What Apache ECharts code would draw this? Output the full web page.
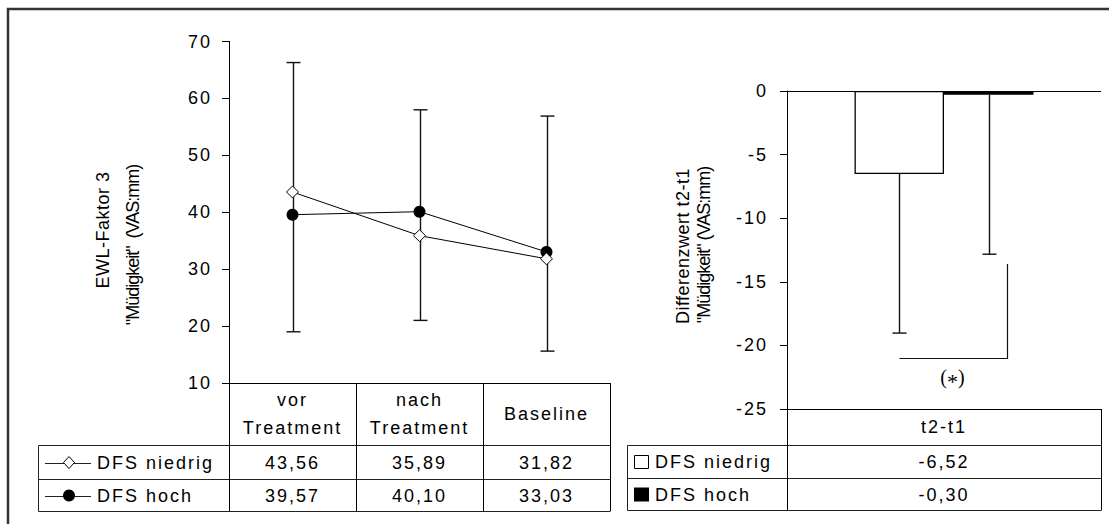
<!DOCTYPE html>
<html><head><meta charset="utf-8">
<script src="https://cdn.jsdelivr.net/npm/echarts@6/dist/echarts.min.js"></script>
<style>
html,body{margin:0;padding:0;background:#fff;}
#c{width:1109px;height:524px;}
#c text{letter-spacing:2px;}
#c text[style*="Arial"],#c text[font-family*="Arial"]{letter-spacing:0.5px;}
#c text[style*="Helvetica"],#c text[font-family*="Helvetica"]{letter-spacing:-1px;}
</style></head><body><div id="c"></div>
<script>
// ---- data ----
const categories = ['vor\nTreatment', 'nach\nTreatment', 'Baseline'];
const seriesNames = ['DFS niedrig', 'DFS hoch'];
const dfsNiedrig = [43.56, 35.89, 31.82];
const dfsHoch = [39.57, 40.10, 33.03];
const errHigh = [66.3, 58.0, 56.9];
const errLow = [19.0, 21.0, 15.6];
const diffCategories = ['t2-t1'];
const diffNiedrig = [-6.52];
const diffHoch = [-0.30];
const diffErrNiedrig = [-19.03];
const diffErrHoch = [-12.83];
const bracketLevel = [-21.0];
const bracketTop = [-13.6];
const sigLabelY = [-22.45];
const yLabelLeft = ['EWL-Faktor 3', '"Müdigkeit"  (VAS:mm)'];
const yLabelRight = ['Differenzwert t2-t1', '"Müdigkeit" (VAS:mm)'];

// ---- layout ----
const FONT = "'Liberation Sans', sans-serif";
const G1 = {left: 229, right: 610, top: 41.5, bottom: 383};
const G2 = {left: 787, right: 1101, top: 91, bottom: 409};
const ROWS1 = [445.5, 479.5, 511.5];
const ROWS2 = [445.5, 478.5, 510.5];
const LEG1 = 38.5, LEG2 = 627.5;
const CAT_GAP = 0.43;
const fmt = v => v.toFixed(2).replace('.', ',');

const chart = echarts.init(document.getElementById('c'), null, {renderer: 'svg', width: 1109, height: 524});
const txt = {color: '#000', fontFamily: FONT, fontSize: 18};
const blk = {color: '#000', width: 1};

function barW(api) { return api.size([1, 0])[0] * (1 - CAT_GAP) / 2; }

const option = {
  animation: false,
  backgroundColor: '#fff',
  textStyle: {fontFamily: FONT},
  grid: [
    {left: G1.left, width: G1.right - G1.left, top: G1.top, height: G1.bottom - G1.top, outerBoundsMode: 'none'},
    {left: G2.left, width: G2.right - G2.left, top: G2.top, height: G2.bottom - G2.top, outerBoundsMode: 'none'}
  ],
  xAxis: [
    {gridIndex: 0, type: 'category', data: categories, boundaryGap: true,
     axisLine: {show: true, lineStyle: blk},
     axisTick: {show: true, alignWithLabel: false, interval: 0, length: 128, lineStyle: blk},
     axisLabel: Object.assign({}, txt, {interval: 0, margin: 31, lineHeight: 28, verticalAlign: 'middle', align: 'center'}),
     splitLine: {show: false}},
    {gridIndex: 1, type: 'category', data: diffCategories, boundaryGap: true,
     axisLine: {show: true, onZero: false, lineStyle: blk},
     axisTick: {show: true, alignWithLabel: false, interval: 0, length: 101, lineStyle: blk},
     axisLabel: Object.assign({}, txt, {interval: 0, margin: 18, verticalAlign: 'middle', align: 'center'}),
     splitLine: {show: false}}
  ],
  yAxis: [
    {gridIndex: 0, type: 'value', min: 10, max: 70, interval: 10,
     axisLine: {show: true, lineStyle: blk}, axisTick: {show: true, length: 7, lineStyle: blk},
     axisLabel: Object.assign({}, txt, {margin: 17}), splitLine: {show: false}},
    {gridIndex: 1, type: 'value', min: -25, max: 0, interval: 5,
     axisLine: {show: true, lineStyle: blk}, axisTick: {show: true, length: 7, lineStyle: blk},
     axisLabel: Object.assign({}, txt, {margin: 19}), splitLine: {show: false}}
  ],
  series: [
    {type: 'custom', name: 'SD', xAxisIndex: 0, yAxisIndex: 0, z: 2,
     data: errLow.map((l, i) => [i, l, errHigh[i]]),
     encode: {x: 0, y: [1, 2]},
     renderItem: function (params, api) {
       const lo = api.coord([api.value(0), api.value(1)]);
       const hi = api.coord([api.value(0), api.value(2)]);
       const x = Math.round(lo[0]) + 0.5, hw = 7;
       const st = {stroke: '#111', lineWidth: 1.4};
       return {type: 'group', children: [
         {type: 'line', shape: {x1: x, y1: lo[1], x2: x, y2: hi[1]}, style: st},
         {type: 'line', shape: {x1: x - hw, y1: lo[1], x2: x + hw, y2: lo[1]}, style: st},
         {type: 'line', shape: {x1: x - hw, y1: hi[1], x2: x + hw, y2: hi[1]}, style: st}
       ]};
     }},
    {type: 'line', name: seriesNames[0], xAxisIndex: 0, yAxisIndex: 0, z: 4, data: dfsNiedrig,
     symbol: 'diamond', symbolSize: 12,
     itemStyle: {color: '#fff', borderColor: '#000', borderWidth: 1},
     lineStyle: {color: '#000', width: 1}},
    {type: 'line', name: seriesNames[1], xAxisIndex: 0, yAxisIndex: 0, z: 3, data: dfsHoch,
     symbol: 'circle', symbolSize: 12,
     itemStyle: {color: '#000'},
     lineStyle: {color: '#000', width: 1}},
    {type: 'bar', name: seriesNames[0], xAxisIndex: 1, yAxisIndex: 1, data: diffNiedrig,
     barGap: '0%', barCategoryGap: (CAT_GAP * 100) + '%',
     itemStyle: {color: '#fff', borderColor: '#000', borderWidth: 1.3},
     markLine: {silent: true, symbol: 'none', label: {show: false},
       lineStyle: {color: '#000', width: 1, type: 'solid'}, data: [{yAxis: 0}]}},
    {type: 'bar', name: seriesNames[1], xAxisIndex: 1, yAxisIndex: 1, data: diffHoch,
     barGap: '0%', barCategoryGap: (CAT_GAP * 100) + '%',
     itemStyle: {color: '#000'}},
    {type: 'custom', name: 'SD2', xAxisIndex: 1, yAxisIndex: 1, z: 3,
     data: [[0, diffNiedrig[0], diffErrNiedrig[0], 0], [0, diffHoch[0], diffErrHoch[0], 1]],
     encode: {x: 0, y: [1, 2]},
     renderItem: function (params, api) {
       const bw = barW(api);
       const p0 = api.coord([api.value(0), api.value(1)]);
       const p1 = api.coord([api.value(0), api.value(2)]);
       const x = Math.round(p0[0] + (api.value(3) - 0.5) * bw) + 0.5, hw = 7;
       const st = {stroke: '#111', lineWidth: 1.4};
       return {type: 'group', children: [
         {type: 'line', shape: {x1: x, y1: p0[1], x2: x, y2: p1[1]}, style: st},
         {type: 'line', shape: {x1: x - hw, y1: p1[1], x2: x + hw, y2: p1[1]}, style: st}
       ]};
     }},
    {type: 'custom', name: 'Signifikanz', xAxisIndex: 1, yAxisIndex: 1, z: 3,
     data: [[0, bracketLevel[0], bracketTop[0], sigLabelY[0]]],
     encode: {x: 0, y: [1, 2]},
     renderItem: function (params, api) {
       const bw = barW(api);
       const cx = api.coord([api.value(0), api.value(1)])[0];
       const xL = Math.round(cx - 0.5 * bw) + 0.5;
       const xR = Math.round(cx + 0.7 * bw) + 0.5;
       const yL = Math.round(api.coord([0, api.value(1)])[1]) + 0.5;
       const yT = api.coord([0, api.value(2)])[1];
       const yS = api.coord([0, api.value(3)])[1];
       return {type: 'group', children: [
         {type: 'polyline', shape: {points: [[xL, yL], [xR, yL], [xR, yT]]},
          style: {stroke: '#111', lineWidth: 1.2, fill: null}},
         {type: 'text', x: (xL + xR) / 2, y: yS,
          style: {text: '{p|(}{a|*}{p|)}', align: 'center', verticalAlign: 'middle',
            rich: {p: {fontFamily: "'Liberation Serif', serif", fontSize: 20, color: '#000'},
                   a: {fontFamily: "'Liberation Serif', serif", fontSize: 22, color: '#000', padding: [10, 0, 0, 0]}}}}
       ]};
     }}
  ]
};
chart.setOption(option);

// ---- data table & decorations (positions from the axes) ----
const c1 = categories.map((_, i) => chart.convertToPixel({gridIndex: 0}, [i, 10])[0]);
const c2 = diffCategories.map((_, i) => chart.convertToPixel({gridIndex: 1}, [i, -25])[0]);
const st = {stroke: '#222', lineWidth: 1};
const g = [];
function hline(x1, x2, y) { g.push({type: 'line', silent: true, shape: {x1: x1, y1: y, x2: x2, y2: y}, style: st}); }
function vline(x, y1, y2) { g.push({type: 'line', silent: true, shape: {x1: x, y1: y1, x2: x, y2: y2}, style: st}); }
function text(s, x, y, align) {
  g.push({type: 'text', silent: true, x: x, y: y,
    style: {text: s, fill: '#000', fontSize: 18, fontFamily: FONT, align: align, verticalAlign: 'middle'}});
}
// outer frame (top and left edge)
g.push({type: 'polyline', silent: true, shape: {points: [[8, 524], [8, 9], [1109, 9]]}, style: {stroke: '#333', lineWidth: 2.5, fill: null}});
// left table
ROWS1.forEach(y => hline(LEG1, G1.right + 0.5, y));
vline(LEG1, ROWS1[0], ROWS1[2]);
const r1 = [(ROWS1[0] + ROWS1[1]) / 2, (ROWS1[1] + ROWS1[2]) / 2];
[dfsNiedrig, dfsHoch].forEach((arr, k) => {
  arr.forEach((v, i) => text(fmt(v), c1[i], r1[k], 'center'));
  hline(45, 91, Math.round(r1[k]) + 0.5);
  text(seriesNames[k], 97, r1[k], 'left');
});
g.push({type: 'polygon', silent: true, shape: {points: [[69, r1[0] - 6], [74.5, r1[0]], [69, r1[0] + 6], [63.5, r1[0]]]},
  style: {fill: '#fff', stroke: '#000', lineWidth: 1}});
g.push({type: 'circle', silent: true, shape: {cx: 69, cy: r1[1], r: 6}, style: {fill: '#000'}});
// right table
ROWS2.forEach(y => hline(LEG2, G2.right + 0.5, y));
vline(LEG2, ROWS2[0], ROWS2[2]);
const r2 = [(ROWS2[0] + ROWS2[1]) / 2, (ROWS2[1] + ROWS2[2]) / 2];
[diffNiedrig, diffHoch].forEach((arr, k) => {
  arr.forEach((v, i) => text(fmt(v), c2[i], r2[k], 'center'));
  text(seriesNames[k], 655, r2[k], 'left');
});
g.push({type: 'rect', silent: true, shape: {x: 634.5, y: r2[0] - 6.5, width: 14, height: 13}, style: {fill: '#fff', stroke: '#000', lineWidth: 1}});
g.push({type: 'rect', silent: true, shape: {x: 634, y: r2[1] - 7, width: 15, height: 14}, style: {fill: '#000'}});
// rotated axis titles
function rot(s, x, y, fam) {
  g.push({type: 'text', silent: true, x: x, y: y, rotation: Math.PI / 2,
    style: {text: s, fill: '#000', fontSize: 18, fontFamily: fam, align: 'center', verticalAlign: 'middle'}});
}
rot(yLabelLeft[0], 103, 230, "'Liberation Sans', Arial");
rot(yLabelLeft[1], 133, 245, "'Liberation Sans', Helvetica");
rot(yLabelRight[0], 683, 246, "'Liberation Sans', Arial");
rot(yLabelRight[1], 704, 245, "'Liberation Sans', Helvetica");
chart.setOption({graphic: {elements: g}});
</script></body></html>
